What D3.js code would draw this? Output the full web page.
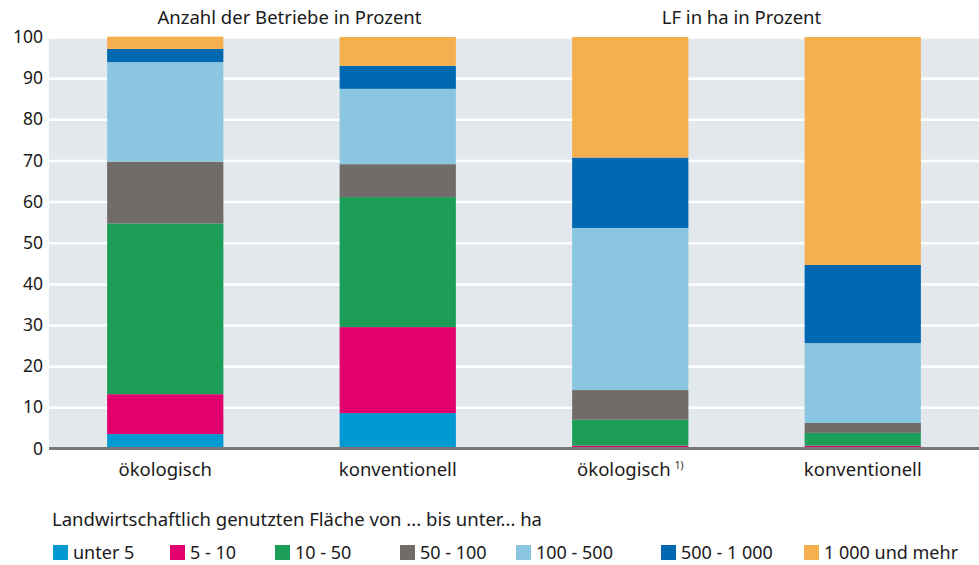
<!DOCTYPE html>
<html>
<head>
<meta charset="utf-8">
<script src="https://cdn.jsdelivr.net/npm/d3@7"></script>
<style>
  body { margin: 0; background: #fff; }
  text { font-family: "Noto Sans", sans-serif; fill: #1a1a1a; }
</style>
</head>
<body>
<svg></svg>
<script>
// categories and series
const categories = ['oeko_betriebe', 'konv_betriebe', 'oeko_lf', 'konv_lf'];
const categoryLabels = ['ökologisch', 'konventionell', 'ökologisch', 'konventionell'];
const categoryNotes = ['', '', '1)', ''];
const groupTitles = ['Anzahl der Betriebe in Prozent', 'LF in ha in Prozent'];

const seriesNames = ['unter 5', '5 - 10', '10 - 50', '50 - 100', '100 - 500', '500 - 1 000', '1 000 und mehr'];
const seriesColors = ['#0099d1', '#e2006f', '#1c9e58', '#716c69', '#8ac6e0', '#0068b1', '#f6af4f'];

const unter5 = [3.5, 8.6, 0.1, 0.1];
const von5 = [9.7, 20.9, 0.6, 0.6];
const von10 = [41.5, 31.6, 6.3, 3.1];
const von50 = [15.0, 8.0, 7.2, 2.4];
const von100 = [24.2, 18.3, 39.4, 19.4];
const von500 = [3.2, 5.6, 17.1, 19.0];
const von1000 = [3.0, 7.0, 29.3, 55.4];

const yTicks = [0, 10, 20, 30, 40, 50, 60, 70, 80, 90, 100];
const legendTitle = 'Landwirtschaftlich genutzten Fläche von ... bis unter... ha';

const width = 979;
const height = 565;
const margin = { top: 37, right: 0, bottom: 116.5, left: 49 };

let svg = d3.select('svg')
    .attr('width', width)
    .attr('height', height)

const seriesValues = [unter5, von5, von10, von50, von100, von500, von1000];
const rows = categories.map((c, i) => {
    let row = { cat: c };
    seriesNames.forEach((s, j) => row[s] = seriesValues[j][i]);
    return row;
});

const xScale = d3.scaleBand()
    .domain(categories)
    .range([margin.left, width - margin.right])
    .paddingInner(0.5)
    .paddingOuter(0.25)

const yScale = d3.scaleLinear()
    .domain([0, 100])
    .range([height - margin.bottom, margin.top])

// plot background
svg.append('rect')
    .attr('x', margin.left)
    .attr('y', margin.top)
    .attr('width', width - margin.left - margin.right)
    .attr('height', yScale(0) - margin.top)
    .attr('fill', '#e3e8ec')

// y axis with white gridlines
let yAxis = d3.axisLeft(yScale)
    .tickValues(yTicks)
    .tickSize(-(width - margin.left - margin.right))
    .tickPadding(6)

let yG = svg.append('g')
    .attr('transform', 'translate(' + margin.left + ',0)')
    .call(yAxis)
yG.select('.domain').remove()
yG.selectAll('line').attr('stroke', '#fff').attr('stroke-width', 2.5)
yG.selectAll('text')
    .style('font-size', '17.5px')
    .style('font-family', '"Noto Sans", sans-serif')
    .attr('fill', '#1a1a1a')

// stacked bars
const stack = d3.stack().keys(seriesNames)(rows);

svg.append('g')
    .selectAll('g')
    .data(stack)
    .enter()
    .append('g')
    .attr('fill', (d, i) => seriesColors[i])
    .selectAll('rect')
    .data(d => d)
    .enter()
    .append('rect')
    .attr('x', d => xScale(d.data.cat))
    .attr('width', xScale.bandwidth())
    .attr('y', d => yScale(d[1]))
    .attr('height', d => yScale(d[0]) - yScale(d[1]))

// baseline
svg.append('line')
    .attr('x1', margin.left)
    .attr('x2', width - margin.right)
    .attr('y1', yScale(0))
    .attr('y2', yScale(0))
    .attr('stroke', '#777')
    .attr('stroke-width', 3)

// x labels
let xAxis = d3.axisBottom(xScale)
    .tickSize(0)
    .tickPadding(14)
    .tickFormat((d, i) => categoryLabels[i])

let xG = svg.append('g')
    .attr('transform', 'translate(0,' + yScale(0) + ')')
    .call(xAxis)
xG.select('.domain').remove()
xG.selectAll('text')
    .style('font-size', '18.5px')
    .style('font-family', '"Noto Sans", sans-serif')
    .attr('fill', '#1a1a1a')
    .each(function (d, i) {
        if (categoryNotes[i]) {
            d3.select(this).append('tspan')
                .attr('dx', 4)
                .attr('dy', -7)
                .style('font-size', '10px')
                .text(categoryNotes[i])
        }
    })

// group titles
groupTitles.forEach((t, i) => {
    let a = xScale(categories[i * 2]) + xScale.bandwidth() / 2;
    let b = xScale(categories[i * 2 + 1]) + xScale.bandwidth() / 2;
    svg.append('text')
        .attr('x', (a + b) / 2 + 8 - i * 13)
        .attr('y', 24)
        .attr('text-anchor', 'middle')
        .style('font-size', '18.5px')
        .text(t)
})

// legend
svg.append('text')
    .attr('x', 52)
    .attr('y', 526)
    .style('font-size', '18.5px')
    .text(legendTitle)

const legendX = [53, 170, 275, 400, 516, 661, 804];
let legend = svg.append('g')
    .selectAll('g')
    .data(seriesNames)
    .enter()
    .append('g')
    .attr('transform', (d, i) => 'translate(' + legendX[i] + ',545)')

legend.append('rect')
    .attr('width', 15)
    .attr('height', 15)
    .attr('fill', (d, i) => seriesColors[i])

legend.append('text')
    .attr('x', 20)
    .attr('y', 14)
    .style('font-size', '18px')
    .text(d => d)
</script>
</body>
</html>
